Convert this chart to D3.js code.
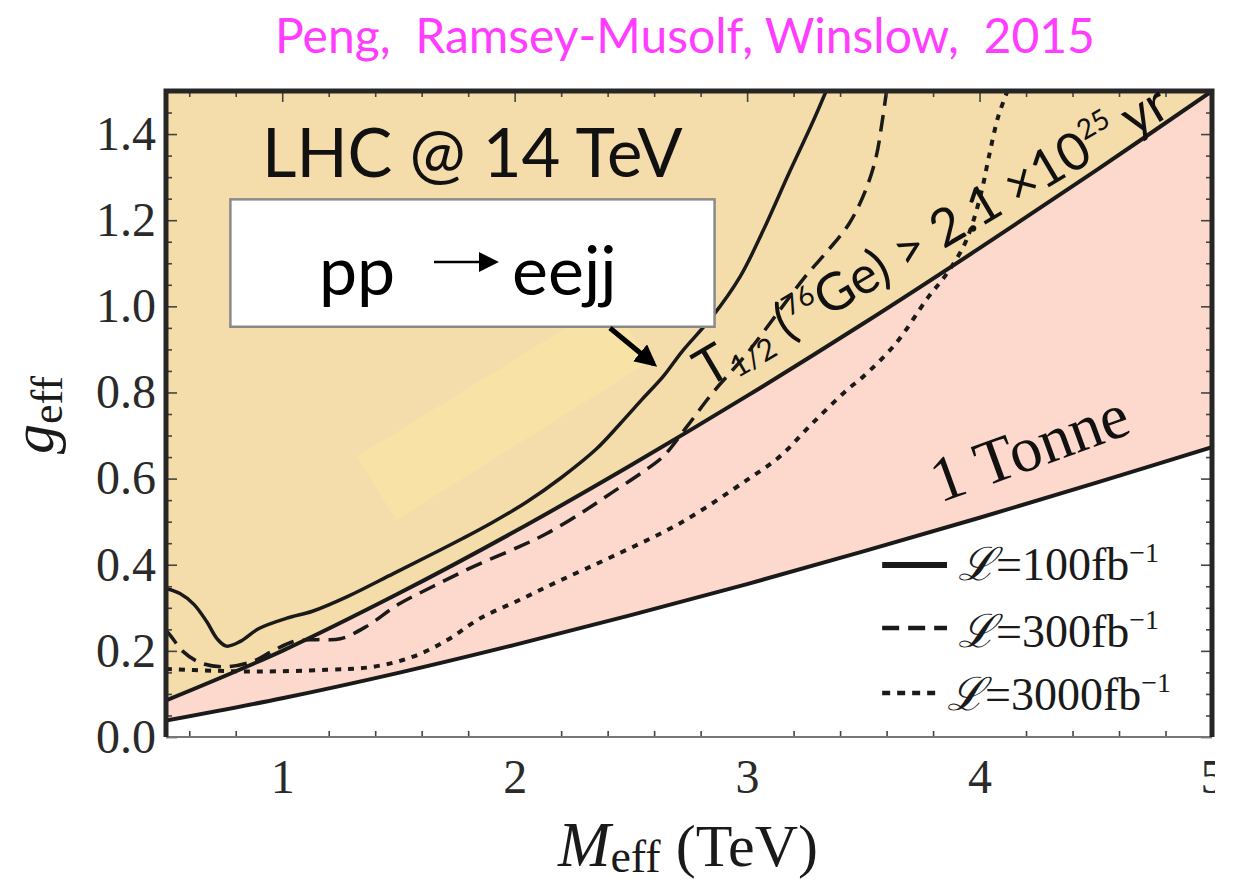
<!DOCTYPE html>
<html>
<head>
<meta charset="utf-8">
<script src="https://cdn.jsdelivr.net/npm/d3@7"></script>
<style>
body { margin: 0; background: #fff; }
svg { display: block; }
</style>
</head>
<body>
<svg id="chart" width="1236" height="884"></svg>
<script>
// 0vbb half-life bound and 1 tonne reach, read along M_eff (TeV)
const boundM = [0.5, 1, 1.5, 2, 2.5, 3, 3.5, 4, 4.5, 5];
const halfLifeG = [0.085, 0.20, 0.333, 0.477, 0.631, 0.792, 0.960, 1.135, 1.315, 1.5];
const tonneG = [0.038, 0.090, 0.149, 0.214, 0.283, 0.355, 0.431, 0.509, 0.590, 0.673];

// LHC reach, L = 100 fb^-1
const lumi100M = [0.5, 0.56, 0.62, 0.675, 0.72, 0.76, 0.82, 0.9, 1.02, 1.13, 1.28, 1.48, 1.65, 1.78, 1.9, 2.05, 2.2, 2.35, 2.45, 2.55, 2.64, 2.72, 2.85, 2.97, 3.07, 3.18, 3.28, 3.34];
const lumi100G = [0.345, 0.333, 0.308, 0.268, 0.228, 0.211, 0.222, 0.252, 0.276, 0.292, 0.326, 0.380, 0.426, 0.462, 0.497, 0.545, 0.602, 0.668, 0.725, 0.785, 0.838, 0.895, 0.976, 1.069, 1.177, 1.309, 1.425, 1.5];

// L = 300 fb^-1
const lumi300M = [0.5, 0.53, 0.57, 0.65, 0.76, 0.875, 0.96, 1.05, 1.15, 1.25, 1.36, 1.5, 1.65, 1.82, 2.02, 2.14, 2.3, 2.42, 2.55, 2.64, 2.74, 2.85, 3.0, 3.14, 3.25, 3.35, 3.44, 3.51, 3.555, 3.58, 3.6];
const lumi300G = [0.248, 0.228, 0.200, 0.172, 0.163, 0.176, 0.200, 0.222, 0.226, 0.228, 0.256, 0.308, 0.350, 0.395, 0.442, 0.473, 0.525, 0.568, 0.615, 0.652, 0.720, 0.798, 0.891, 0.991, 1.069, 1.131, 1.193, 1.27, 1.347, 1.425, 1.5];

// L = 3000 fb^-1
const lumi3000M = [0.5, 0.7, 0.9, 1.19, 1.39, 1.56, 1.71, 1.85, 2.02, 2.19, 2.42, 2.71, 3.0, 3.14, 3.28, 3.43, 3.5, 3.64, 3.78, 3.85, 3.93, 3.97, 4.01, 4.04, 4.08, 4.12];
const lumi3000G = [0.158, 0.154, 0.152, 0.156, 0.163, 0.186, 0.225, 0.275, 0.318, 0.362, 0.419, 0.496, 0.597, 0.651, 0.728, 0.806, 0.837, 0.914, 1.022, 1.069, 1.138, 1.193, 1.27, 1.347, 1.44, 1.5];

const xTicks = [1, 2, 3, 4, 5];
const yTicks = [0, 0.2, 0.4, 0.6, 0.8, 1.0, 1.2, 1.4];
const legendLumi = ["100", "300", "3000"];

const svg = d3.select("#chart");
const x = d3.scaleLinear().domain([0.5, 5]).range([166, 1212]);
const y = d3.scaleLinear().domain([0, 1.5]).range([737, 91]);

const defs = svg.append("defs");
defs.append("clipPath").attr("id", "plotClip")
	.append("rect")
	.attr("x", x(0.5)).attr("y", y(1.5))
	.attr("width", x(5) - x(0.5)).attr("height", y(0) - y(1.5));
defs.append("clipPath").attr("id", "labelClip")
	.append("rect").attr("x", 0).attr("y", 0).attr("width", 1215).attr("height", 884);

function addHead(id, size) {
	defs.append("marker")
		.attr("id", id)
		.attr("viewBox", "0 0 10 10")
		.attr("refX", 8).attr("refY", 5)
		.attr("markerWidth", size).attr("markerHeight", size)
		.attr("orient", "auto")
		.append("path").attr("d", "M0,0 L10,5 L0,10 Z").attr("fill", "#000");
}
addHead("headBig", 4.4);
addHead("headSmall", 8);

const smooth = d3.curveCatmullRom.alpha(0.5);
const line = d3.line().x(d => x(d[0])).y(d => y(d[1])).curve(smooth);

//Plot area
const plot = svg.append("g").attr("clip-path", "url(#plotClip)");
plot.append("rect")
	.attr("x", x(0.5)).attr("y", y(1.5))
	.attr("width", x(5) - x(0.5)).attr("height", y(0) - y(1.5))
	.attr("fill", "#f5dcab");

// faint highlight band (rotated strip)
const band = [[1.3195, 0.6508], [1.4914, 0.5038], [2.577, 0.8706], [2.414, 1.0146]];
plot.append("path")
	.attr("d", "M" + band.map(d => x(d[0]) + "," + y(d[1])).join("L") + "Z")
	.attr("fill", "#f8e2a6");

const pink = d3.area()
	.x((d, i) => x(boundM[i]))
	.y0((d, i) => y(tonneG[i]))
	.y1((d, i) => y(halfLifeG[i]))
	.curve(smooth);
plot.append("path").datum(boundM).attr("d", pink).attr("fill", "#fcd9cc");

const white = d3.area()
	.x((d, i) => x(boundM[i]))
	.y0(y(0) + 5)
	.y1((d, i) => y(tonneG[i]))
	.curve(smooth);
plot.append("path").datum(boundM).attr("d", white).attr("fill", "#fff");

// LHC curves
const curves = [
	{m: lumi100M, g: lumi100G, dash: null, w: 3.5},
	{m: lumi300M, g: lumi300G, dash: "17,9", w: 3.5},
	{m: lumi3000M, g: lumi3000G, dash: "6,7", w: 4}
];
curves.forEach(c => {
	plot.append("path")
		.datum(d3.zip(c.m, c.g))
		.attr("d", line)
		.attr("fill", "none")
		.attr("stroke", "#1a1a1a")
		.attr("stroke-width", c.w)
		.attr("stroke-dasharray", c.dash);
});

// bound lines
[halfLifeG, tonneG].forEach(gs => {
	plot.append("path")
		.datum(d3.zip(boundM, gs))
		.attr("d", line)
		.attr("fill", "none")
		.attr("stroke", "#1a1a1a")
		.attr("stroke-width", 4);
});

//Axes, ticks inward
function styleAxis(g) {
	g.select(".domain").remove();
	g.selectAll(".tick line").attr("stroke", "#444").attr("stroke-width", 1.6);
	g.selectAll("text")
		.attr("fill", "#2a2a2a")
		.style("font-family", "'Liberation Serif', 'Times New Roman', serif")
		.style("font-size", "48px");
}
const xMinor = d3.range(0.6, 5, 0.2).filter(v => Math.abs(v - Math.round(v)) > 0.01);
const yMinor = d3.range(0.05, 1.5, 0.05).filter(v => Math.abs(v * 5 - Math.round(v * 5)) > 0.01);

svg.append("g").attr("transform", `translate(0,${y(0)})`)
	.call(d3.axisBottom(x).tickValues(xMinor).tickSize(-6).tickFormat(""))
	.call(styleAxis);
svg.append("g").attr("transform", `translate(0,${y(0)})`)
	.attr("clip-path", "url(#labelClip)")
	.call(d3.axisBottom(x).tickValues(xTicks).tickSize(-11).tickPadding(22).tickFormat(d3.format("d")))
	.call(styleAxis);
svg.append("g").attr("transform", `translate(0,${y(1.5)})`)
	.call(d3.axisTop(x).tickValues(xMinor).tickSize(-6).tickFormat(""))
	.call(styleAxis);
svg.append("g").attr("transform", `translate(0,${y(1.5)})`)
	.call(d3.axisTop(x).tickValues(xTicks).tickSize(-11).tickFormat(""))
	.call(styleAxis);
svg.append("g").attr("transform", `translate(${x(0.5)},0)`)
	.call(d3.axisLeft(y).tickValues(yMinor).tickSize(-6).tickFormat(""))
	.call(styleAxis);
svg.append("g").attr("transform", `translate(${x(0.5)},0)`)
	.call(d3.axisLeft(y).tickValues(yTicks).tickSize(-11).tickPadding(10).tickFormat(d3.format(".1f")))
	.call(styleAxis);
svg.append("g").attr("transform", `translate(${x(5)},0)`)
	.call(d3.axisRight(y).tickValues(yMinor).tickSize(-6).tickFormat(""))
	.call(styleAxis);
svg.append("g").attr("transform", `translate(${x(5)},0)`)
	.call(d3.axisRight(y).tickValues(yTicks).tickSize(-11).tickFormat(""))
	.call(styleAxis);

//Frame
svg.append("line").attr("x1", x(0.5)).attr("x2", x(5)).attr("y1", y(0)).attr("y2", y(0))
	.attr("stroke", "#777").attr("stroke-width", 2);
svg.append("path")
	.attr("d", `M${x(0.5)},${y(0)}V${y(1.5)}H${x(5)}V${y(0)}`)
	.attr("fill", "none").attr("stroke", "#262626").attr("stroke-width", 5)
	.attr("stroke-linejoin", "miter");

//Axis titles
const serif = "'Liberation Serif', 'Times New Roman', serif";
const xt = svg.append("text")
	.attr("x", 688).attr("y", 866)
	.attr("text-anchor", "middle")
	.style("font-family", serif).attr("fill", "#1a1a1a");
xt.append("tspan").text("M").style("font-style", "italic").style("font-size", "63px");
xt.append("tspan").text("eff").style("font-size", "46px").attr("dy", 6);
xt.append("tspan").text(" (TeV)").style("font-size", "60px").attr("dy", -6);

const yt = svg.append("text")
	.attr("transform", "translate(53,415) rotate(-90)")
	.attr("text-anchor", "middle")
	.style("font-family", serif).attr("fill", "#1a1a1a");
yt.append("tspan").text("g").style("font-style", "italic").style("font-size", "60px");
yt.append("tspan").text("eff").style("font-size", "44px").attr("dy", 9);

//Title
svg.append("text")
	.attr("x", 685).attr("y", 53)
	.attr("text-anchor", "middle")
	.style("font-family", "Lato, 'Open Sans', sans-serif")
	.style("font-size", "48px")
	.style("white-space", "pre")
	.attr("fill", "#ff3dff")
	.text("Peng,  Ramsey-Musolf, Winslow,  2015");

//Annotations
const sans = "Lato, 'Open Sans', sans-serif";
svg.append("text")
	.attr("x", x(0.913)).attr("y", y(1.301))
	.style("font-family", sans).style("font-size", "67px")
	.attr("fill", "#111")
	.text("LHC @ 14 TeV");

svg.append("rect")
	.attr("x", x(0.777)).attr("y", y(1.2484))
	.attr("width", x(2.860) - x(0.777)).attr("height", y(0.9526) - y(1.2484))
	.attr("fill", "#fff").attr("stroke", "#8a8a8a").attr("stroke-width", 2.5);
svg.append("text")
	.attr("x", x(1.158)).attr("y", y(1.0262))
	.style("font-family", sans).style("font-size", "68px").attr("fill", "#000")
	.text("pp");
svg.append("text")
	.attr("x", x(1.989)).attr("y", y(1.0262))
	.style("font-family", sans).style("font-size", "68px").attr("fill", "#000")
	.text("eejj");
svg.append("line")
	.attr("x1", x(1.653)).attr("y1", y(1.1029))
	.attr("x2", x(1.915)).attr("y2", y(1.1029))
	.attr("stroke", "#000").attr("stroke-width", 2.5)
	.attr("marker-end", "url(#headSmall)");

svg.append("line")
	.attr("x1", x(2.41)).attr("y1", y(0.9496))
	.attr("x2", x(2.598)).attr("y2", y(0.866))
	.attr("stroke", "#000").attr("stroke-width", 5)
	.attr("marker-end", "url(#headBig)");

// half-life label along the bound
const tl = svg.append("text")
	.attr("transform", `translate(${x(2.83)},${y(0.81)}) rotate(-30.5)`)
	.style("font-family", sans).style("font-size", "52px").attr("fill", "#111");
tl.append("tspan").text("T");
tl.append("tspan").text("1/2").style("font-size", "30px").attr("dy", 7);
tl.append("tspan").text(" (").attr("dy", -7);
tl.append("tspan").text("76").style("font-size", "28px").attr("dy", -20);
tl.append("tspan").text("Ge) > 2.1 ×10").attr("dy", 20);
tl.append("tspan").text("25").style("font-size", "28px").attr("dy", -22);
tl.append("tspan").text(" yr").attr("dy", 22);

svg.append("text")
	.attr("transform", `translate(${x(3.83)},${y(0.5433)}) rotate(-20)`)
	.style("font-family", serif).style("font-size", "64px").attr("fill", "#111")
	.text("1 Tonne");

//Legend
const legendY = [0.3993, 0.2531, 0.1022];
const legendTextX = [3.907, 3.907, 3.860];
const legendTextY = [0.3645, 0.2090, 0.0627];
const legendDash = [null, "17,9", "8,7"];
legendLumi.forEach((lab, i) => {
	svg.append("line")
		.attr("x1", x(3.581)).attr("x2", x(i == 2 ? 3.83 : 3.86))
		.attr("y1", y(legendY[i])).attr("y2", y(legendY[i]))
		.attr("stroke", "#1a1a1a")
		.attr("stroke-width", i == 0 ? 6 : 4.5)
		.attr("stroke-dasharray", legendDash[i]);
	const t = svg.append("text")
		.attr("x", x(legendTextX[i])).attr("y", y(legendTextY[i]))
		.style("font-family", serif).style("font-size", "46px").attr("fill", "#1a1a1a");
	t.append("tspan").text("ℒ").style("font-style", "italic");
	t.append("tspan").text("=" + lab + "fb");
	t.append("tspan").text("−1").style("font-size", "28px").attr("dy", -18);
});
</script>
</body>
</html>
